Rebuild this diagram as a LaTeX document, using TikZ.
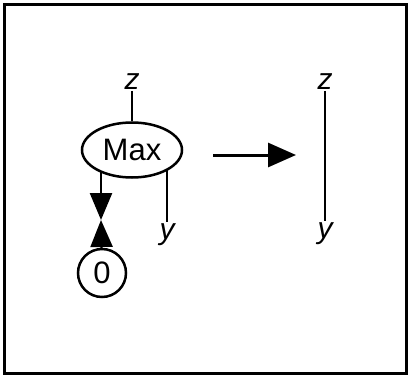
\documentclass[tikz,border=0pt]{standalone}
\usepackage{fontspec}
\setmainfont{Liberation Sans}
\usetikzlibrary{arrows.meta,shapes.geometric,backgrounds}
\tikzset{
  lbl/.style={inner sep=1pt, font=\fontsize{30}{33}\selectfont\itshape},
  bubble/.style={draw, fill=white, line width=2.5pt, inner sep=0pt, font=\fontsize{31}{34}\selectfont},
  wire/.style={line width=2.5pt},
  tri/.style={-{Triangle[length=27pt,width=22pt]}}
}
\begin{document}
\begin{tikzpicture}[x=1pt,y=-1pt]
\useasboundingbox (0,0) rectangle (409,377);
\draw[line width=3pt] (4,5) rectangle (406,373);

% left side
\node[bubble, ellipse, minimum width=100pt, minimum height=55pt] (max) at (132,150) {Max};
\node[bubble, circle, minimum size=48pt] (zero) at (102,273) {0};
\node[lbl, anchor=south] (zL) at (132,91) {z};
\node[lbl, anchor=north] (yL) at (167,222) {y};
\coordinate (meet) at (101,220);

\begin{scope}[on background layer]
  \draw[wire] (zL) -- (max);
  \draw[wire] (max.center -| yL) -- (yL);
  \draw[wire, tri] (max.center -| meet) -- (meet);
\end{scope}
\draw[wire, tri] (zero) -- (meet);

% rewrite arrow
\coordinate (arrS) at (213,155);
\coordinate (arrE) at (296,155);
\draw[line width=3pt, -{Triangle[length=28pt,width=24pt]}] (arrS) -- (arrE);

% right side
\node[lbl, anchor=south] (zR) at (325,91) {z};
\node[lbl, anchor=north] (yR) at (325,221) {y};
\draw[wire] (zR) -- (yR);
\end{tikzpicture}
\end{document}
